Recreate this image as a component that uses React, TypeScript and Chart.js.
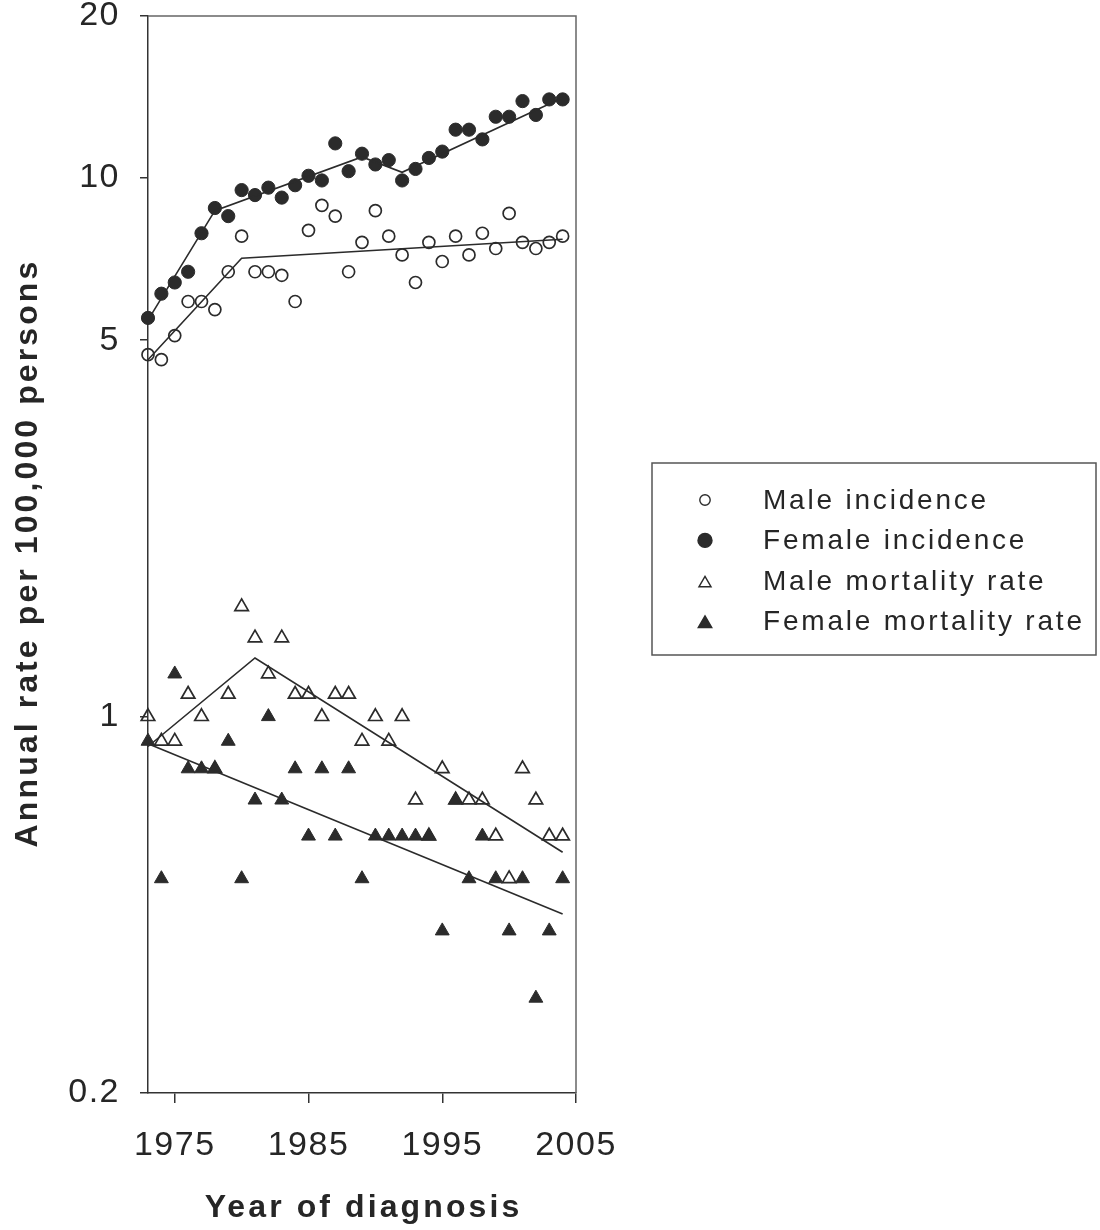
import React, { useEffect, useRef } from 'react';
import { Chart, registerables } from 'chart.js';

Chart.register(...registerables);

// ---------------- data ----------------
const years = [
  1973, 1974, 1975, 1976, 1977, 1978, 1979, 1980, 1981, 1982, 1983, 1984, 1985, 1986, 1987, 1988,
  1989, 1990, 1991, 1992, 1993, 1994, 1995, 1996, 1997, 1998, 1999, 2000, 2001, 2002, 2003, 2004,
];

const maleIncidence = [
  4.7, 4.6, 5.1, 5.9, 5.9, 5.7, 6.7, 7.8, 6.7, 6.7, 6.6, 5.9, 8.0, 8.9, 8.5, 6.7,
  7.6, 8.7, 7.8, 7.2, 6.4, 7.6, 7.0, 7.8, 7.2, 7.9, 7.4, 8.6, 7.6, 7.4, 7.6, 7.8,
];

const femaleIncidence = [
  5.5, 6.1, 6.4, 6.7, 7.9, 8.8, 8.5, 9.5, 9.3, 9.6, 9.2, 9.7, 10.1, 9.9, 11.6, 10.3,
  11.1, 10.6, 10.8, 9.9, 10.4, 10.9, 11.2, 12.3, 12.3, 11.8, 13.0, 13.0, 13.9, 13.1, 14.0, 14.0,
];

const maleMortality = [
  1.0, 0.9, 0.9, 1.1, 1.0, 0.8, 1.1, 1.6, 1.4, 1.2, 1.4, 1.1, 1.1, 1.0, 1.1, 1.1,
  0.9, 1.0, 0.9, 1.0, 0.7, 0.6, 0.8, 0.7, 0.7, 0.7, 0.6, 0.5, 0.8, 0.7, 0.6, 0.6,
];

const femaleMortality = [
  0.9, 0.5, 1.2, 0.8, 0.8, 0.8, 0.9, 0.5, 0.7, 1.0, 0.7, 0.8, 0.6, 0.8, 0.6, 0.8,
  0.5, 0.6, 0.6, 0.6, 0.6, 0.6, 0.4, 0.7, 0.5, 0.6, 0.5, 0.4, 0.5, 0.3, 0.4, 0.5,
];

// joinpoint trend lines: [year, value] at the segment ends
const femaleIncidenceTrend = [[1973, 5.45], [1978, 8.7], [1989, 10.95], [1992, 10.25], [2004, 14.1]];
const maleIncidenceTrend = [[1973, 4.6], [1980, 7.1], [2004, 7.7]];
const maleMortalityTrend = [[1973, 0.88], [1981, 1.285], [2004, 0.56]];
const femaleMortalityTrend = [[1973, 0.89], [2004, 0.43]];

const xTicks = [1975, 1985, 1995, 2005];
const yTicks = [0.2, 1, 5, 10, 20];

const legendLabels = ['Male incidence', 'Female incidence', 'Male mortality rate', 'Female mortality rate'];
const xTitle = 'Year of diagnosis';
const yTitle = 'Annual rate per 100,000 persons';

// ---------------- styling ----------------
const FONT = '"Liberation Sans", Arial, Helvetica, sans-serif';
const INK = '#2b2b2b';
const TEXT = '#262626';

const toPoints = (vals: number[]) => vals.map((v, i) => ({ x: years[i], y: v }));
const toLine = (pairs: number[][]) => pairs.map(([x, y]) => ({ x, y }));

const decorPlugin = {
  id: 'decor',
  beforeDraw(chart: any) {
    chart.ctx.letterSpacing = '1.5px';
  },
  afterDraw(chart: any) {
    const { ctx, chartArea } = chart;
    ctx.save();
    ctx.letterSpacing = '0px';
    // frame top & right
    ctx.strokeStyle = '#666';
    ctx.lineWidth = 1.5;
    ctx.beginPath();
    ctx.moveTo(chartArea.left, chartArea.top);
    ctx.lineTo(chartArea.right, chartArea.top);
    ctx.lineTo(chartArea.right, chartArea.bottom);
    ctx.stroke();

    // axis titles
    ctx.fillStyle = TEXT;
    ctx.font = `bold 32px ${FONT}`;
    ctx.letterSpacing = '3.1px';
    ctx.textAlign = 'center';
    ctx.textBaseline = 'alphabetic';
    ctx.fillText(xTitle, (chartArea.left + chartArea.right) / 2 + 1.5, chartArea.bottom + 124);
    ctx.save();
    ctx.translate(37, (chartArea.top + chartArea.bottom) / 2);
    ctx.rotate(-Math.PI / 2);
    ctx.fillText(yTitle, 1.5, 0);
    ctx.restore();

    // legend
    const bx = 652, by = 463, bw = 444, bh = 192;
    ctx.letterSpacing = '0px';
    ctx.strokeStyle = '#555';
    ctx.lineWidth = 1.5;
    ctx.strokeRect(bx, by, bw, bh);
    const mx = 705;
    const tx = 763;
    ctx.font = `28px ${FONT}`;
    ctx.letterSpacing = '2.8px';
    ctx.textAlign = 'left';
    ctx.textBaseline = 'alphabetic';
    legendLabels.forEach((label, i) => {
      const cy = 500 + i * 40.4;
      ctx.fillStyle = TEXT;
      ctx.fillText(label, tx, cy + 9);
      ctx.strokeStyle = INK;
      ctx.fillStyle = INK;
      ctx.lineWidth = 1.4;
      ctx.beginPath();
      if (i < 2) {
        ctx.arc(mx, cy, i === 0 ? 5.2 : 7, 0, Math.PI * 2);
      } else {
        const r = i === 2 ? 7 : 7.8;
        const c = cy + 2.5;
        ctx.moveTo(mx, c - r);
        ctx.lineTo(mx + r * Math.sin((2 * Math.PI) / 3), c - r * Math.cos((2 * Math.PI) / 3));
        ctx.lineTo(mx + r * Math.sin((4 * Math.PI) / 3), c - r * Math.cos((4 * Math.PI) / 3));
        ctx.closePath();
      }
      if (i % 2 === 1) ctx.fill();
      ctx.stroke();
    });
    ctx.restore();
    ctx.letterSpacing = '0px';
  },
};

export default function App() {
  const canvasRef = useRef<HTMLCanvasElement | null>(null);

  useEffect(() => {
    if (!canvasRef.current) return;
    const zeroPad = (s: any) => {
      s.paddingLeft = 0;
      s.paddingRight = 0;
      s.paddingTop = 0;
      s.paddingBottom = 0;
    };
    const trend = (data: any[], order: number) => ({
      data,
      showLine: true,
      pointRadius: 0,
      borderColor: INK,
      borderWidth: 1.6,
      backgroundColor: INK,
      fill: false,
      tension: 0,
      clip: false as any,
      order,
    });
    const chart = new Chart(canvasRef.current, {
      type: 'scatter',
      data: {
        datasets: [
          {
            label: legendLabels[3],
            data: toPoints(femaleMortality),
            pointStyle: 'triangle',
            pointRadius: 8,
            backgroundColor: INK,
            borderColor: INK,
            borderWidth: 1,
            clip: false as any,
            order: 1,
          },
          {
            label: legendLabels[2],
            data: toPoints(maleMortality),
            pointStyle: 'triangle',
            pointRadius: 7.8,
            backgroundColor: 'rgba(255,255,255,0)',
            borderColor: INK,
            borderWidth: 1.7,
            clip: false as any,
            order: 2,
          },
          {
            label: legendLabels[1],
            data: toPoints(femaleIncidence),
            pointStyle: 'circle',
            pointRadius: 6.6,
            backgroundColor: INK,
            borderColor: INK,
            borderWidth: 1,
            clip: false as any,
            order: 1,
          },
          {
            label: legendLabels[0],
            data: toPoints(maleIncidence),
            pointStyle: 'circle',
            pointRadius: 6,
            backgroundColor: 'rgba(255,255,255,0)',
            borderColor: INK,
            borderWidth: 1.7,
            clip: false as any,
            order: 2,
          },
          trend(toLine(femaleIncidenceTrend), 0),
          trend(toLine(maleIncidenceTrend), 0),
          trend(toLine(maleMortalityTrend), 0),
          trend(toLine(femaleMortalityTrend), 0),
        ],
      },
      options: {
        animation: false,
        responsive: false,
        events: [],
        layout: { padding: { left: 0, right: 524, top: 16, bottom: 0 } },
        plugins: {
          legend: { display: false },
          tooltip: { enabled: false },
          title: { display: false },
        },
        scales: {
          x: {
            type: 'linear',
            position: 'bottom',
            min: 1973,
            max: 2005,
            afterBuildTicks: (s: any) => {
              s.ticks = xTicks.map((v) => ({ value: v }));
            },
            afterFit: (s: any) => {
              s.height = 137;
              zeroPad(s);
            },
            grid: {
              display: true,
              drawOnChartArea: false,
              drawTicks: true,
              tickLength: 10,
              color: '#333',
              lineWidth: 1.5,
            },
            border: { display: true, color: '#333', width: 1.5 },
            ticks: {
              autoSkip: false,
              maxRotation: 0,
              minRotation: 0,
              padding: 22,
              color: TEXT,
              font: { family: FONT, size: 34 },
              callback: (v: any) => String(v),
            },
          },
          y: {
            type: 'logarithmic',
            position: 'left',
            min: 0.2,
            max: 20,
            afterBuildTicks: (s: any) => {
              s.ticks = yTicks.map((v) => ({ value: v }));
            },
            afterFit: (s: any) => {
              s.width = 148;
              zeroPad(s);
            },
            grid: {
              display: true,
              drawOnChartArea: false,
              drawTicks: true,
              tickLength: 8,
              color: '#333',
              lineWidth: 1.5,
            },
            border: { display: true, color: '#333', width: 1.5 },
            ticks: {
              autoSkip: false,
              padding: 20,
              color: TEXT,
              font: { family: FONT, size: 34 },
              callback: (v: any) => String(v),
            },
          },
        },
      } as any,
      plugins: [decorPlugin as any],
    });
    return () => chart.destroy();
  }, []);

  return (
    <div style={{ position: 'absolute', left: 0, top: 0, width: 1100, height: 1230, background: '#fff' }}>
      <canvas ref={canvasRef} width={1100} height={1230} style={{ display: 'block' }} />
    </div>
  );
}
